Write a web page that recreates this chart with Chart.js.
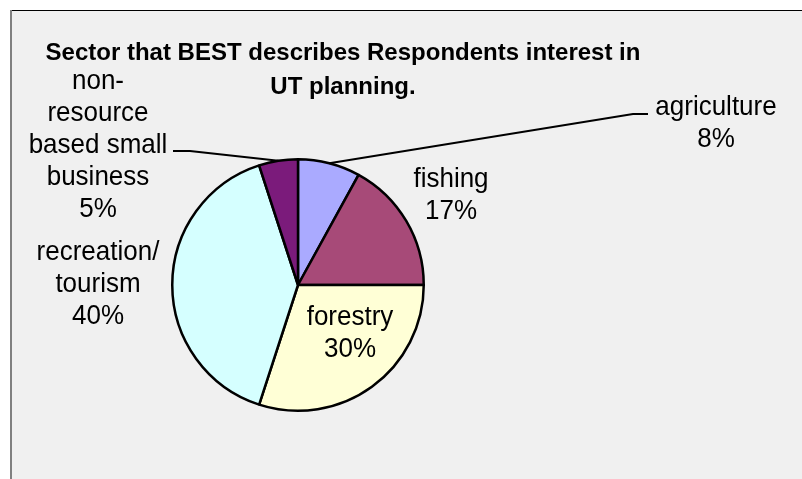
<!DOCTYPE html>
<html>
<head>
  <title>Sector pie</title>
  <script src="https://cdn.jsdelivr.net/npm/chart.js"></script>
  <style>
    html, body { margin: 0; padding: 0; background: #ffffff; }
    #wrap { width: 802px; height: 479px; }
  </style>
</head>
<body>
  <div id="wrap"><canvas id="chart" width="802" height="479"></canvas></div>

  <script>
    // chart data
    const titleLines = ["Sector that BEST describes Respondents interest in", "UT planning."];
    const sectors = ["agriculture", "fishing", "forestry", "recreation/ tourism", "non-resource based small business"];
    const sectorLines = [["agriculture"], ["fishing"], ["forestry"], ["recreation/", "tourism"], ["non-", "resource", "based small", "business"]];
    const shares = [8, 17, 30, 40, 5];
    const sliceColors = ["#AAAAFF", "#A74A78", "#FFFFD6", "#D5FFFF", "#7B1B7B"];

    // where each label sits, relative to the pie centre (centre x, first baseline)
    const labelSpots = [
      { dx: 418, dy: -170, leader: [[335, -171], [350, -171]] },
      { dx: 153, dy: -98 },
      { dx: 52, dy: 40 },
      { dx: -200, dy: -25 },
      { dx: -200, dy: -196, leader: [[-108, -134], [-125, -134]] }
    ];

    const FONT = "'Liberation Sans', Arial, sans-serif";
    const LINE_H = 32;

    // grey panel behind the chart
    const panel = {
      id: "panel",
      beforeDraw(chart) {
        const ctx = chart.ctx;
        ctx.save();
        ctx.fillStyle = "#F0F0F0";
        ctx.fillRect(10, 10, chart.width - 10, chart.height - 10);
        ctx.fillStyle = "#808080";
        ctx.fillRect(10, 10, 2, chart.height - 10);
        ctx.fillStyle = "#000000";
        ctx.fillRect(12, 10, chart.width - 12, 1);
        ctx.restore();
      }
    };

    // text drawn a little taller than the font, like the original
    function tallText(ctx, t, x, y) {
      ctx.save();
      ctx.translate(x, y);
      ctx.scale(1, 1.08);
      ctx.fillText(t, 0, 0);
      ctx.restore();
    }

    // title, slice labels and leader lines
    const labels = {
      id: "labels",
      afterDatasetsDraw(chart) {
        const ctx = chart.ctx;
        const arcs = chart.getDatasetMeta(0).data;
        const cx = arcs[0].x, cy = arcs[0].y;
        ctx.save();
        ctx.fillStyle = "#000";
        ctx.textAlign = "center";
        ctx.textBaseline = "alphabetic";

        ctx.font = "bold 24px " + FONT;
        ctx.fillText(titleLines[0], 343, 60);
        ctx.fillText(titleLines[1], 343, 94);

        ctx.font = "26px " + FONT;
        arcs.forEach((arc, i) => {
          const spot = labelSpots[i];
          const lines = sectorLines[i].concat([shares[i] + "%"]);
          lines.forEach((t, k) => tallText(ctx, t, cx + spot.dx, cy + spot.dy + k * LINE_H));
          if (spot.leader) {
            const mid = (arc.startAngle + arc.endAngle) / 2;
            ctx.beginPath();
            ctx.moveTo(cx + Math.cos(mid) * arc.outerRadius, cy + Math.sin(mid) * arc.outerRadius);
            spot.leader.forEach(p => ctx.lineTo(cx + p[0], cy + p[1]));
            ctx.strokeStyle = "#000";
            ctx.lineWidth = 2;
            ctx.stroke();
          }
        });
        ctx.restore();
      }
    };

    new Chart(document.getElementById("chart").getContext("2d"), {
      type: "pie",
      data: {
        labels: sectors,
        datasets: [{
          data: shares,
          backgroundColor: sliceColors,
          borderColor: "#000000",
          borderWidth: 2.5
        }]
      },
      options: {
        responsive: false,
        animation: false,
        layout: { padding: { left: 171, right: 377, top: 158, bottom: 67 } },
        plugins: {
          legend: { display: false },
          title: { display: false },
          tooltip: { enabled: false }
        }
      },
      plugins: [panel, labels]
    });
  </script>
</body>
</html>
